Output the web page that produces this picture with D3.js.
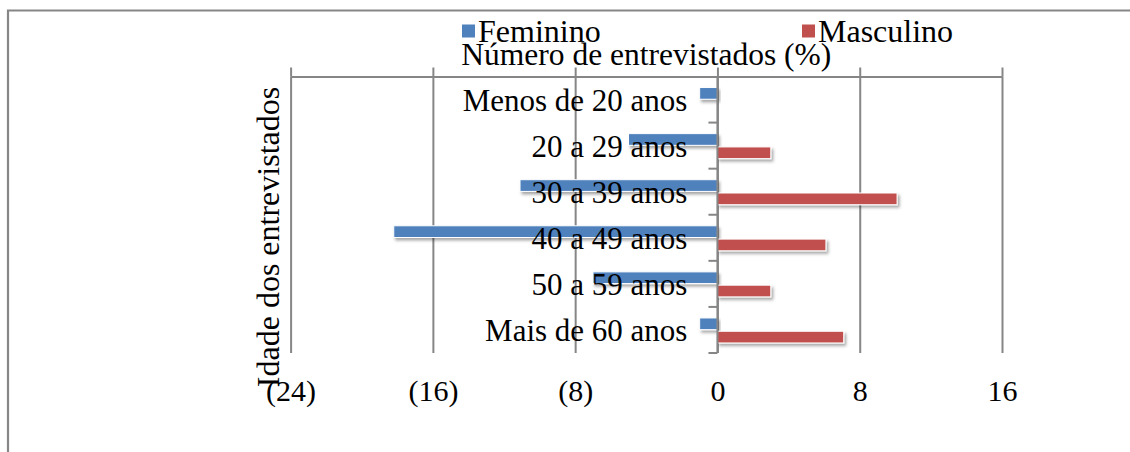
<!DOCTYPE html>
<html lang="pt">
<head>
<meta charset="UTF-8">
<title>Idade dos entrevistados</title>
<script src="https://d3js.org/d3.v7.min.js"></script>
<style>
  body { margin: 0; background: #fff; }
  svg text { font-family: "Liberation Serif", "Times New Roman", serif; fill: #000; }
</style>
</head>
<body>
<script>
// age groups, top to bottom
const categories = ["Menos de 20 anos", "20 a 29 anos", "30 a 39 anos", "40 a 49 anos", "50 a 59 anos", "Mais de 60 anos"];
const series = ["Feminino", "Masculino"];
// feminino drawn to the left, so stored negative
const feminino = [-1.0, -5.0, -11.1, -18.2, -7.0, -1.0];
const masculino = [0, 3.0, 10.1, 6.1, 3.0, 7.1];
const xTicks = [-24, -16, -8, 0, 8, 16];
const colors = { Feminino: "#4F81BD", Masculino: "#C0504D" };

const W = 1130, H = 452;
const plotL = 290.6, plotR = 1002, plotT = 76.5, plotB = 353;
const grey = "#868686";

const svg = d3.select("body").append("svg")
    .attr("width", W)
    .attr("height", H);

const defs = svg.append("defs");
defs.append("filter")
    .attr("id", "shadow")
    .attr("x", "-10%").attr("y", "-50%")
    .attr("width", "130%").attr("height", "250%")
  .append("feDropShadow")
    .attr("dx", 2).attr("dy", 2.5)
    .attr("stdDeviation", 1.6)
    .attr("flood-color", "#000")
    .attr("flood-opacity", 0.35);

// outer chart border (only top and left visible)
svg.append("path")
    .attr("d", `M8,${H} V10.5 H${W}`)
    .attr("fill", "none")
    .attr("stroke", grey)
    .attr("stroke-width", 2.2);

const x = d3.scaleLinear().domain([-24, 16]).range([plotL, plotR]);
const y = d3.scaleBand().domain(categories).range([plotT, plotB]);
const bw = y.bandwidth();
const inner = d3.scaleBand().domain(series)
    .range([bw / 2 - 12, bw / 2 + 13])
    .paddingInner(0.12);

const fmt = v => v < 0 ? `(${-v})` : `${v}`;

// vertical gridlines
svg.append("g")
    .attr("transform", `translate(0,${plotT})`)
    .call(d3.axisBottom(x).tickValues(xTicks).tickSize(plotB - plotT).tickFormat(""))
    .call(g => g.select(".domain").remove())
    .call(g => g.selectAll("line").attr("stroke", grey).attr("stroke-width", 2));

// top value axis line with outward ticks
svg.append("g")
    .attr("transform", `translate(0,${plotT})`)
    .call(d3.axisTop(x).tickValues(xTicks).tickSize(9).tickSizeOuter(0).tickFormat(""))
    .call(g => g.select(".domain").attr("stroke", grey).attr("stroke-width", 2))
    .call(g => g.selectAll("line").attr("stroke", grey).attr("stroke-width", 2));

// value labels at the bottom
svg.append("g")
    .attr("transform", `translate(0,${plotB})`)
    .call(d3.axisBottom(x).tickValues(xTicks).tickSize(0).tickPadding(27).tickFormat(fmt))
    .call(g => g.select(".domain").remove())
    .call(g => g.selectAll("text").attr("font-size", 30).attr("font-family", null));

// bars
const rows = categories.map((c, i) => ({ cat: c, Feminino: feminino[i], Masculino: masculino[i] }));
const barG = svg.append("g");
series.forEach(s => {
  barG.selectAll(null)
    .data(rows.filter(d => d[s] !== 0))
    .enter().append("rect")
      .attr("x", d => Math.min(x(0), x(d[s])))
      .attr("y", d => y(d.cat) + inner(s))
      .attr("width", d => Math.abs(x(d[s]) - x(0)))
      .attr("height", inner.bandwidth())
      .attr("fill", colors[s])
      .attr("stroke", "#fff")
      .attr("stroke-width", 1)
      .attr("filter", "url(#shadow)");
});

// category axis on zero
const catAxis = svg.append("g");
catAxis.append("line")
    .attr("x1", x(0)).attr("x2", x(0))
    .attr("y1", plotT).attr("y2", plotB)
    .attr("stroke", grey).attr("stroke-width", 2);
catAxis.selectAll(".ctick")
    .data(categories.slice(1).map(c => y(c)).concat([y.range()[1]]))
    .enter().append("line")
      .attr("x1", x(0) - 9).attr("x2", x(0))
      .attr("y1", d => d).attr("y2", d => d)
      .attr("stroke", grey).attr("stroke-width", 2);
catAxis.selectAll(".clabel")
    .data(categories)
    .enter().append("text")
      .attr("x", x(0) - 30)
      .attr("y", d => y(d) + bw / 2 + 11)
      .attr("text-anchor", "end")
      .attr("font-size", 31)
      .text(d => d);

// axis titles
svg.append("text")
    .attr("x", (plotL + plotR) / 2)
    .attr("y", 65)
    .attr("text-anchor", "middle")
    .attr("font-size", 31.5)
    .text("Número de entrevistados (%)");

svg.append("text")
    .attr("transform", "translate(279,237) rotate(-90)")
    .attr("text-anchor", "middle")
    .attr("font-size", 32)
    .text("Idade dos entrevistados");

// legend
const legendX = [462, 802];
const legend = svg.append("g");
series.forEach((s, i) => {
  legend.append("rect")
      .attr("x", legendX[i]).attr("y", 24.5)
      .attr("width", 13).attr("height", 13)
      .attr("fill", colors[s]);
  legend.append("text")
      .attr("x", legendX[i] + 16)
      .attr("y", 42)
      .attr("font-size", 32)
      .text(s);
});
</script>
</body>
</html>
